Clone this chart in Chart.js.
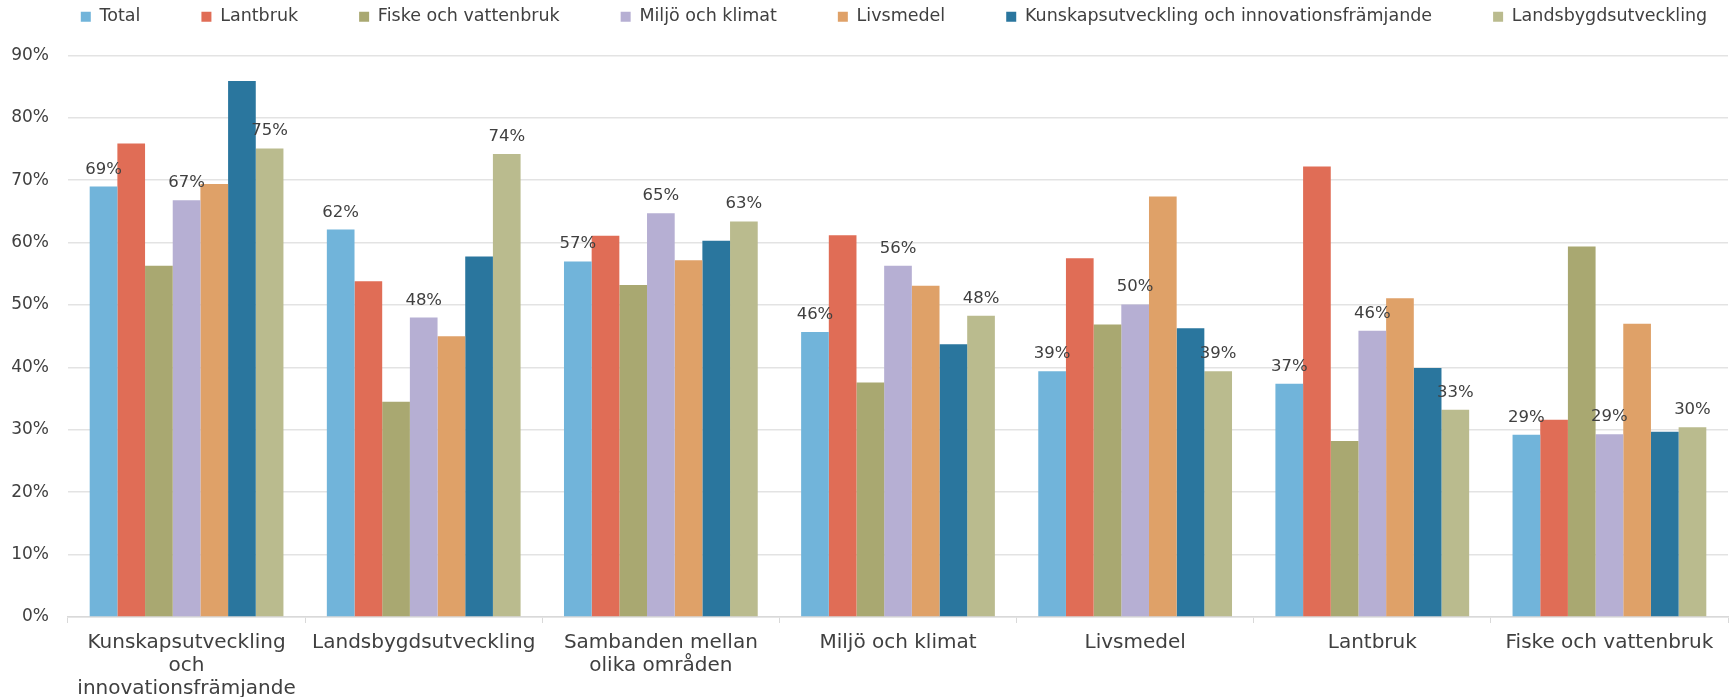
<!DOCTYPE html>
<html>
<head>
<meta charset="utf-8">
<script src="https://cdn.jsdelivr.net/npm/chart.js@4/dist/chart.umd.min.js"></script>
<style>
  html, body { margin: 0; padding: 0; background: #ffffff; }
  #wrap { width: 1736px; height: 697px; position: relative; }
</style>
</head>
<body>
<div id="wrap"><canvas id="c" width="1736" height="697"></canvas></div>
<script>
// Categories (x axis)
const categories = [
  ["Kunskapsutveckling", "och", "innovationsfrämjande"],
  ["Landsbygdsutveckling"],
  ["Sambanden mellan", "olika områden"],
  ["Miljö och klimat"],
  ["Livsmedel"],
  ["Lantbruk"],
  ["Fiske och vattenbruk"]
];

// Series names
const seriesNames = [
  "Total",
  "Lantbruk",
  "Fiske och vattenbruk",
  "Miljö och klimat",
  "Livsmedel",
  "Kunskapsutveckling och innovationsfrämjande",
  "Landsbygdsutveckling"
];

// Series values (percent)
const totalValues       = [69.0, 62.1, 57.0, 45.7, 39.4, 37.4, 29.2];
const lantbrukValues    = [75.9, 53.8, 61.1, 61.2, 57.5, 72.2, 31.6];
const fiskeValues       = [56.3, 34.5, 53.2, 37.6, 46.9, 28.2, 59.4];
const miljoValues       = [66.8, 48.0, 64.7, 56.3, 50.1, 45.9, 29.3];
const livsmedelValues   = [69.4, 45.0, 57.2, 53.1, 67.4, 51.1, 47.0];
const kunskapValues     = [85.9, 57.8, 60.3, 43.7, 46.3, 39.9, 29.7];
const landsbygdValues   = [75.1, 74.2, 63.4, 48.3, 39.4, 33.2, 30.4];

// Y tick values
const yTicks = [0, 10, 20, 30, 40, 50, 60, 70, 80, 90];

// Series shown with data labels
const labelledSeries = [0, 3, 6];

const colors = ["#71B4DA", "#E06D56", "#A9A871", "#B6AFD3", "#DFA168", "#2A769E", "#BABB8E"];
const allValues = [totalValues, lantbrukValues, fiskeValues, miljoValues, livsmedelValues, kunskapValues, landsbygdValues];

const FONT = "'DejaVu Sans', sans-serif";
const TEXT = "#404040";

const dataLabelPlugin = {
  id: 'dataLabels',
  afterDatasetsDraw(chart) {
    const ctx = chart.ctx;
    ctx.save();
    ctx.font = "16.5px " + FONT;
    ctx.fillStyle = TEXT;
    ctx.textAlign = "center";
    ctx.textBaseline = "alphabetic";
    labelledSeries.forEach(di => {
      const meta = chart.getDatasetMeta(di);
      meta.data.forEach((bar, i) => {
        const v = chart.data.datasets[di].data[i];
        ctx.fillText(Math.round(v) + "%", bar.x, bar.y - 13);
      });
    });
    ctx.restore();
  }
};

// Legend spacing tweaks: extra height below the legend, wider row, horizontal shift
const legendTweak = {
  id: 'legendTweak',
  beforeInit(chart) {
    const lg = chart.legend;
    if (lg && !lg._patched) {
      const orig = lg.fit;
      lg.fit = function () { this.maxWidth += 80; orig.call(this); this.height += 20; };
      lg._patched = true;
    }
  },
  afterLayout(chart) {
    const lg = chart.legend;
    if (lg) { lg.left += 30 - 40; lg.right += 30 + 40; lg.width = lg.right - lg.left; }
  }
};

new Chart(document.getElementById('c'), {
  type: 'bar',
  data: {
    labels: categories,
    datasets: seriesNames.map((name, i) => ({
      label: name,
      data: allValues[i],
      backgroundColor: colors[i],
      borderWidth: 0,
      barPercentage: 1.0,
      categoryPercentage: 0.817
    }))
  },
  options: {
    responsive: false,
    animation: false,
    devicePixelRatio: 1,
    layout: { padding: { left: 0, right: 8, top: -53, bottom: 0 } },
    plugins: {
      legend: {
        position: 'top',
        labels: {
          boxWidth: 10,
          boxHeight: 10,
          padding: 61,
          color: TEXT,
          font: { family: FONT, size: 17.5 }
        }
      },
      tooltip: { enabled: false }
    },
    scales: {
      x: {
        grid: {
          drawOnChartArea: false,
          drawTicks: true,
          tickLength: 6,
          color: "#d9d9d9",
          offset: true
        },
        border: { display: true, color: "#d9d9d9", width: 1.5 },
        ticks: {
          color: TEXT,
          font: { family: FONT, size: 20, lineHeight: 1.15 },
          padding: 8,
          maxRotation: 0,
          autoSkip: false
        },
        afterFit(scale) { scale.height = 80; }
      },
      y: {
        min: 0,
        max: 90,
        afterBuildTicks(scale) { scale.ticks = yTicks.map(v => ({ value: v })); },
        grid: {
          drawTicks: false,
          color: "#e3e3e3",
          lineWidth: 1.6
        },
        border: { display: false },
        ticks: {
          color: TEXT,
          font: { family: FONT, size: 17 },
          padding: 19,
          callback: v => v + "%"
        },
        afterFit(scale) { scale.width = 68; }
      }
    }
  },
  plugins: [dataLabelPlugin, legendTweak]
});
</script>
</body>
</html>
